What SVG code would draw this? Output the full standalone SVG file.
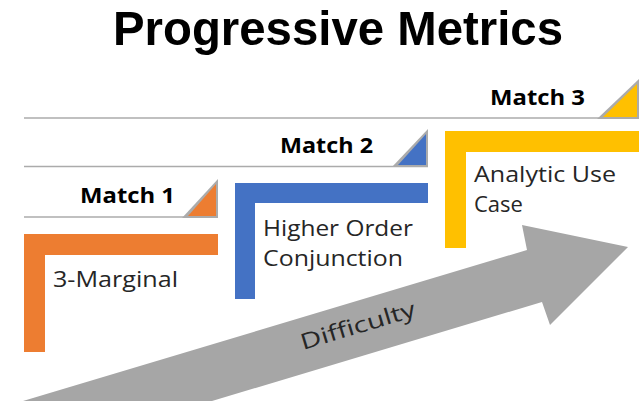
<svg xmlns="http://www.w3.org/2000/svg" width="639" height="401" viewBox="0 0 639 401">
  <style>
    .title { font-family: "Liberation Sans", "Open Sans", sans-serif; font-weight: 700; font-size: 49px; fill: #000; }
    .match { font-family: "Open Sans", "Liberation Sans", sans-serif; font-weight: 700; font-size: 21px; fill: #000; }
    .label { font-family: "Open Sans", "Liberation Sans", sans-serif; font-size: 22px; fill: #262626; }
    .rule { stroke: #ABABAB; stroke-width: 1.6; fill: none; }
    .tab-edge { fill: #ABABAB; }
  </style>

  <!-- Title -->
  <text class="title" x="113" y="45" textLength="450" lengthAdjust="spacingAndGlyphs">Progressive Metrics</text>

  <!-- Difficulty arrow -->
  <g id="difficulty-arrow">
    <polygon points="23,401 527,250 522,225 628,247 550,325 542,302 212,401" fill="#A6A6A6"/>
    <text class="label" x="303" y="350" fill="#1a1a1a" transform="rotate(-16.7 303 350)" textLength="119" lengthAdjust="spacingAndGlyphs" font-size="25">Difficulty</text>
  </g>

  <!-- Match tiers: rule lines with corner tabs -->
  <g id="connectors">
    <line class="rule" x1="24" y1="118" x2="639" y2="118"/>
    <line class="rule" x1="24" y1="166.5" x2="428" y2="166.5"/>
    <line class="rule" x1="24" y1="217" x2="218" y2="217"/>
  </g>

  <g id="match-1">
    <polygon class="tab-edge" points="182,218 218,218 218,179"/>
    <polygon points="188,216 216,216 216,184" fill="#ED7D31"/>
    <text class="match" x="80" y="203" textLength="95" lengthAdjust="spacingAndGlyphs">Match 1</text>
  </g>

  <g id="match-2">
    <polygon class="tab-edge" points="392,167 428,167 428,129"/>
    <polygon points="398,165 426,165 426,134" fill="#4472C4"/>
    <text class="match" x="280" y="153" textLength="93" lengthAdjust="spacingAndGlyphs">Match 2</text>
  </g>

  <g id="match-3">
    <polygon class="tab-edge" points="597,119 639,119 639,79"/>
    <polygon points="603,117 637,117 637,84" fill="#FFC000"/>
    <text class="match" x="490" y="105" textLength="95" lengthAdjust="spacingAndGlyphs">Match 3</text>
  </g>

  <!-- Step brackets -->
  <g id="step-3-marginal">
    <path d="M24,234 H218 V255 H45 V352 H24 Z" fill="#ED7D31"/>
    <text class="label" x="53" y="287" textLength="125" lengthAdjust="spacingAndGlyphs">3-Marginal</text>
  </g>

  <g id="step-higher-order">
    <path d="M235,183 H428 V203 H255 V299 H235 Z" fill="#4472C4"/>
    <text class="label" x="263" y="236" textLength="150" lengthAdjust="spacingAndGlyphs">Higher Order</text>
    <text class="label" x="263" y="266" textLength="140" lengthAdjust="spacingAndGlyphs">Conjunction</text>
  </g>

  <g id="step-analytic">
    <path d="M445,131 H639 V152 H466 V248 H445 Z" fill="#FFC000"/>
    <text class="label" x="474" y="182" textLength="142" lengthAdjust="spacingAndGlyphs">Analytic Use</text>
    <text class="label" x="474" y="212">Case</text>
  </g>
</svg>
